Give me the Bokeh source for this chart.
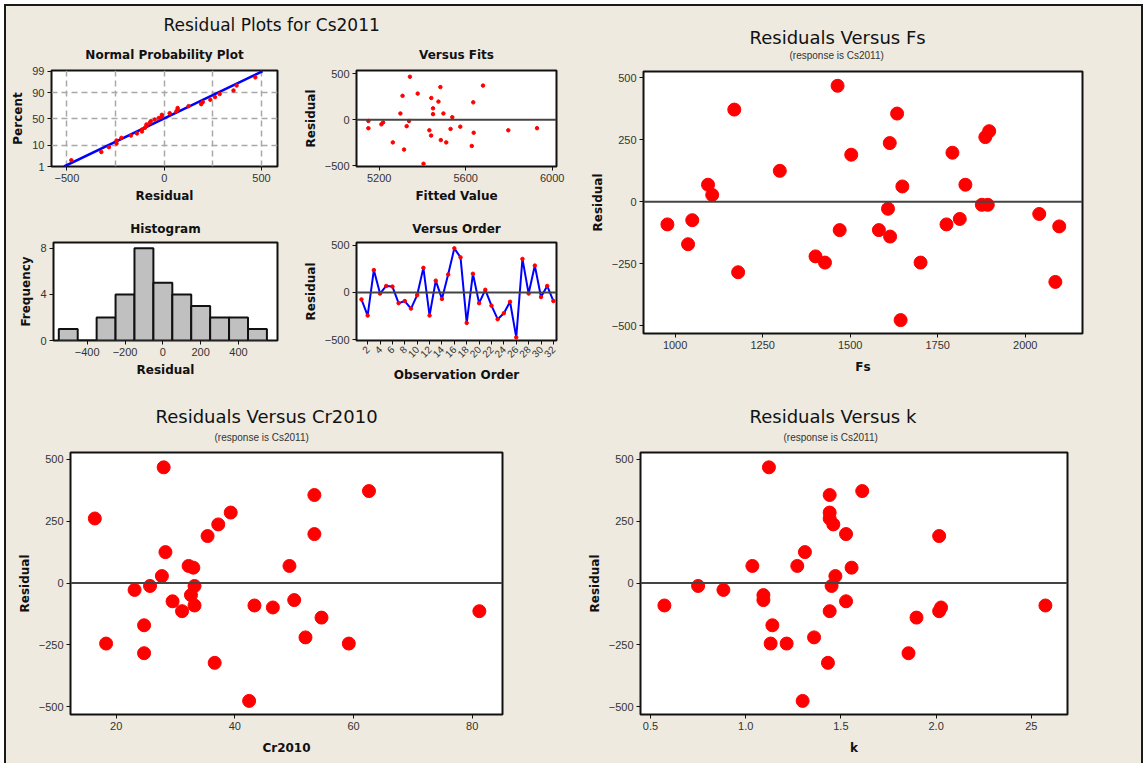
from statistics import NormalDist
import numpy as np
from bokeh.plotting import figure
from bokeh.layouts import row, column
from bokeh.models import Range1d, FixedTicker, Span, Title, CustomJSTickFormatter
from bokeh.embed import file_html
from bokeh.resources import INLINE

# ---------------- data ----------------
observation = list(range(1, 33))
residual = [-74, -245, 237, -12, 69, 62, -114, -91, -171, -28, 261, -245, 125, -69, 190, 468,
            372, -323, 198, -114, 28, -140, -284, -220, -99, -477, 356, -12, 285, -49, 69, -91]
fitted = [5575, 5263, 5441, 5150, 5298, 5449, 5432, 5930, 5440, 5218, 5308, 5510, 5449, 5327, 5635, 5342,
          5680, 5315, 5474, 5797, 5538, 5637, 5628, 5485, 5530, 5405, 5483, 5338, 5378, 5210, 5497, 5150]
fs = [1049, 1428, 1613, 1876, 1094, 1649, 1470, 978, 1037, 1608, 1886, 1701, 1299, 1813, 1503, 1464,
      1169, 2086, 1792, 1582, 1106, 1614, 1180, 1401, 2097, 1644, 1634, 1893, 1897, 2040, 1829, 1775]
cr2010 = [29.5, 18.3, 37.2, 25.7, 32.2, 33.0, 31.1, 43.3, 24.7, 23.1, 16.4, 59.2, 28.3, 50.0, 35.4, 28.0,
          62.6, 36.6, 53.4, 81.2, 27.7, 54.6, 24.7, 51.9, 46.4, 42.4, 53.4, 33.2, 39.3, 32.6, 49.2, 33.2]
k = [1.527, 1.131, 1.460, 0.750, 1.035, 1.556, 1.441, 0.573, 1.140, 0.883, 1.441, 1.215, 1.311, 1.093, 2.016, 1.122,
     1.612, 1.432, 1.527, 2.016, 1.471, 1.897, 1.855, 1.359, 2.026, 1.299, 1.441, 1.451, 1.441, 1.093, 1.271, 2.574]

hist_edges = [-550, -450, -350, -250, -150, -50, 50, 150, 250, 350, 450, 550]
np_percent_ticks = [1, 10, 50, 90, 99]
k_ticks = [0.5, 1.0, 1.5, 2.0, 2.5]
k_tick_labels = ["0.5", "1.0", "1.5", "2.0", "25"]

BG = "#EEEAE0"
FONT = "Liberation Sans"
TFONT = "DejaVu Sans"
INK = "#111111"
nd = NormalDist()


def base(width, height, xr, yr, lb, rb, tb, bb, title=None, title_standoff=8):
    p = figure(width=width, height=height, x_range=Range1d(*xr), y_range=Range1d(*yr),
               output_backend="svg", toolbar_location=None, title=title,
               min_border_left=lb, min_border_right=rb, min_border_top=tb, min_border_bottom=bb)
    p.background_fill_color = "white"
    p.border_fill_color = BG
    p.outline_line_color = INK
    p.outline_line_width = 2
    p.grid.visible = False
    for ax in p.axis:
        ax.axis_line_color = None
        ax.major_tick_line_color = INK
        ax.major_tick_line_width = 1
        ax.major_tick_in = 0
        ax.major_tick_out = 4
        ax.minor_tick_line_color = None
        ax.major_label_standoff = 3
        ax.major_label_text_font = FONT
        ax.major_label_text_font_size = "11px"
        ax.major_label_text_color = "#333333"
        ax.axis_label_text_font = TFONT
        ax.axis_label_text_font_style = "bold"
        ax.axis_label_text_font_size = "12px"
        ax.axis_label_text_color = INK
        ax.axis_label_standoff = 4
    if title is not None:
        p.title.align = "center"
        p.title.text_font = TFONT
        p.title.text_font_size = "12px"
        p.title.text_font_style = "bold"
        p.title.text_color = INK
        p.title.standoff = title_standoff
    return p


def zero_line(p):
    p.add_layout(Span(location=0, dimension="width", line_color="#444444", line_width=2))


# ---------------- header ----------------
header = figure(width=570, height=30, x_range=Range1d(0, 1), y_range=Range1d(0, 1),
                output_backend="svg", toolbar_location=None, title="Residual Plots for Cs2011",
                min_border_left=0, min_border_right=0, min_border_top=28, min_border_bottom=0)
header.axis.visible = False
header.grid.visible = False
header.outline_line_color = None
header.background_fill_color = BG
header.border_fill_color = BG
header.title.align = "left"
header.title.offset = 157
header.title.text_font = TFONT
header.title.text_font_size = "17px"
header.title.text_font_style = "normal"
header.title.text_color = INK
header.title.standoff = 0

# ---------------- normal probability plot ----------------
n = len(residual)
sorted_res = sorted(residual)
z_pts = [nd.inv_cdf((i + 1 - 0.3) / (n + 0.4)) for i in range(n)]
z_ticks = [nd.inv_cdf(v / 100.0) for v in np_percent_ticks]
mu = float(np.mean(residual))
sd = float(np.std(residual, ddof=1))
z_line = [z_ticks[0], z_ticks[-1]]
x_line = [mu + z * sd for z in z_line]

p_np = base(294, 176, (-579, 582), (z_ticks[0], z_ticks[-1] + 0.03), 45, 23, 32, 46,
            title="Normal Probability Plot", title_standoff=18)
p_np.grid.visible = True
p_np.xgrid.ticker = FixedTicker(ticks=[-500, -250, 0, 250, 500])
p_np.ygrid.ticker = FixedTicker(ticks=z_ticks[1:4])
p_np.grid.grid_line_color = "#A8A8A8"
p_np.grid.grid_line_width = 1.5
p_np.grid.grid_line_dash = "6 4"
p_np.xaxis.ticker = FixedTicker(ticks=[-500, 0, 500])
p_np.yaxis.ticker = FixedTicker(ticks=z_ticks)
p_np.yaxis.formatter = CustomJSTickFormatter(
    args=dict(zs=z_ticks, labs=[str(v) for v in np_percent_ticks]),
    code="for (let i = 0; i < zs.length; i++) { if (Math.abs(tick - zs[i]) < 1e-6) return labs[i]; } return '';")
p_np.xaxis.axis_label = "Residual"
p_np.yaxis.axis_label = "Percent"
p_np.line(x_line, z_line, line_color="#0000FF", line_width=2.5)
p_np.scatter(sorted_res, z_pts, size=3.5, color="#FF0000", marker="circle")

# ---------------- versus fits ----------------
p_fit = base(276, 176, (5095, 6020), (-507, 536), 51, 20, 32, 46, title="Versus Fits",
             title_standoff=18)
p_fit.xaxis.ticker = FixedTicker(ticks=[5200, 5600, 6000])
p_fit.yaxis.ticker = FixedTicker(ticks=[-500, 0, 500])
p_fit.xaxis.axis_label = "Fitted Value"
p_fit.yaxis.axis_label = "Residual"
zero_line(p_fit)
p_fit.scatter(fitted, residual, size=3.5, color="#FF0000", marker="circle")

# ---------------- histogram ----------------
counts, _ = np.histogram(residual, bins=hist_edges)
p_h = base(294, 184, (-578, 606), (0, 8.5), 47, 23, 30, 55, title="Histogram", title_standoff=14)
p_h.xaxis.ticker = FixedTicker(ticks=[-400, -200, 0, 200, 400])
p_h.yaxis.ticker = FixedTicker(ticks=[0, 4, 8])
p_h.xaxis.axis_label = "Residual"
p_h.yaxis.axis_label = "Frequency"
p_h.quad(left=hist_edges[:-1], right=hist_edges[1:], bottom=0, top=counts.tolist(),
         fill_color="#C0C0C0", line_color=INK, line_width=2)

# ---------------- versus order ----------------
p_o = base(276, 184, (0.2, 32.5), (-510, 530), 52, 20, 30, 56, title="Versus Order",
           title_standoff=14)
p_o.xaxis.ticker = FixedTicker(ticks=list(range(2, 33, 2)))
p_o.yaxis.ticker = FixedTicker(ticks=[-500, 0, 500])
p_o.xaxis.major_label_orientation = 0.785
p_o.xaxis.major_label_text_font_size = "10px"
p_o.xaxis.axis_label = "Observation Order"
p_o.yaxis.axis_label = "Residual"
zero_line(p_o)
p_o.line(observation, residual, line_color="#0000FF", line_width=2)
p_o.scatter(observation, residual, size=3.5, color="#FF0000", marker="circle")


# ---------------- big scatter plots ----------------
def big(width, height, xr, yr, lb, rb, tb, bb, name, x, xticks,
        sub_standoff, main_standoff, sub_offset, main_offset):
    p = base(width, height, xr, yr, lb, rb, tb, bb, title=None)
    p.add_layout(Title(text="(response is Cs2011)", align="left", offset=sub_offset, text_font=FONT,
                       text_font_size="10px", text_font_style="normal", text_color="#333333",
                       standoff=sub_standoff), "above")
    p.add_layout(Title(text="Residuals Versus " + name, align="left", offset=main_offset,
                       text_font=TFONT, text_font_size="18px", text_font_style="normal",
                       text_color=INK, standoff=main_standoff), "above")
    p.xaxis.ticker = FixedTicker(ticks=xticks)
    p.yaxis.ticker = FixedTicker(ticks=[-500, -250, 0, 250, 500])
    p.xaxis.axis_label = name
    p.yaxis.axis_label = "Residual"
    p.xaxis.axis_label_standoff = 8
    zero_line(p)
    p.scatter(x, residual, size=13, color="#FF0000", line_color="#FF0000", marker="circle")
    return p


p_fs = big(565, 390, (909.7, 2163.5), (-531, 525.6), 67, 59, 65, 63, "Fs", fs,
           [1000, 1250, 1500, 1750, 2000], 22, -22, 146, 106)
p_cr = big(570, 367, (12.3, 85.1), (-532, 528), 64, 74, 56, 49, "Cr2010", cr2010,
           [20, 40, 60, 80], 20, -14, 144, 85)
p_k = big(565, 367, (0.4475, 2.69), (-532, 528), 64, 74, 56, 49, "k", k, k_ticks, 20, -14, 143, 109)
p_k.xaxis.formatter = CustomJSTickFormatter(
    args=dict(ts=k_ticks, labs=k_tick_labels),
    code="for (let i = 0; i < ts.length; i++) { if (Math.abs(tick - ts[i]) < 1e-6) return labs[i]; } return '';")

left_block = column(header, row(p_np, p_fit), row(p_h, p_o))
layout = column(row(left_block, p_fs), row(p_cr, p_k), margin=(4, 0, 0, 4),
                styles={"border-top": "2px solid #1a1a1a", "border-left": "2px solid #1a1a1a",
                        "border-right": "2px solid #1a1a1a", "background-color": BG})

open("out.html", "w").write(file_html(layout, INLINE))
